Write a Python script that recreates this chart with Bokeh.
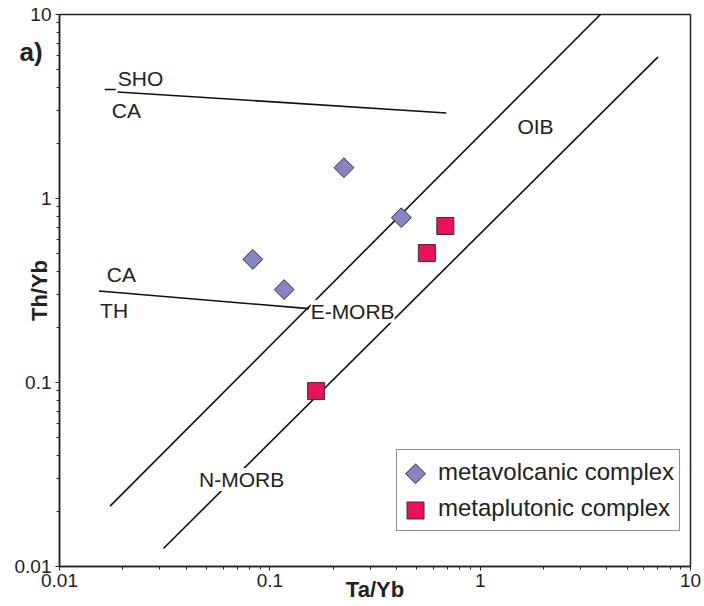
from bokeh.plotting import figure
from bokeh.models import (Range1d, FixedTicker, CustomJSTickFormatter, Label,
                          Legend, LegendItem, ColumnDataSource)
from bokeh.core.properties import value
from bokeh.embed import file_html
from bokeh.resources import INLINE
import math

# ---- data ----
metavolcanic_ta_yb = [0.083, 0.117, 0.225, 0.422]
metavolcanic_th_yb = [0.467, 0.320, 1.47, 0.787]
metaplutonic_ta_yb = [0.166, 0.558, 0.683]
metaplutonic_th_yb = [0.0898, 0.505, 0.709]

# boundary lines of the diagram
upper_array_x = [0.0174, 3.73]
upper_array_y = [0.0213, 10.0]
lower_array_x = [0.0312, 7.01]
lower_array_y = [0.01253, 5.88]
sho_ca_x = [0.01887, 0.690]
sho_ca_y = [3.794, 2.917]
sho_ca_dash_x = [0.0164, 0.0185]
sho_ca_dash_y = [3.91, 3.91]
ca_th_x = [0.0154, 0.1534]
ca_th_y = [0.314, 0.252]

# field labels
field_labels = ["SHO", "CA", "CA", "TH", "E-MORB", "N-MORB", "OIB"]
field_label_x = [0.01892, 0.01773, 0.01678, 0.01559, 0.1563, 0.04606, 1.504]
field_label_y = [4.487, 3.0, 0.3886, 0.245, 0.2442, 0.0297, 2.454]
field_label_bg = [None, None, None, None, "white", "white", "white"]

major_ticks = [0.01, 0.1, 1, 10]
minor_ticks = [m * d for d in [0.01, 0.1, 1] for m in range(2, 10)]

series_names = ["metavolcanic complex", "metaplutonic complex"]
# legend swatch anchor points (inside the legend box, data space)
legend_swatch_x = [0.4928, 0.4928]
legend_swatch_y = [0.03191, 0.02015]

FONT = "Liberation Sans"
INK = "#222222"
VOLC_FILL = "#8784c3"
PLUT_FILL = "#eb1158"

p = figure(width=704, height=606, x_axis_type="log", y_axis_type="log",
           x_range=Range1d(0.01, 10), y_range=Range1d(0.01, 10),
           output_backend="svg", toolbar_location=None,
           min_border_left=59, min_border_right=14, min_border_top=14,
           min_border_bottom=40)
p.grid.visible = False
p.outline_line_color = INK
p.outline_line_width = 1.5
p.background_fill_color = "white"
p.border_fill_color = "white"

fmt = CustomJSTickFormatter(code="return String(Number(tick.toPrecision(6)));")
for ax in (p.xaxis[0], p.yaxis[0]):
    ax.ticker = FixedTicker(ticks=major_ticks, minor_ticks=minor_ticks)
    ax.formatter = fmt
    ax.axis_line_color = INK
    ax.axis_line_width = 1.5
    ax.major_tick_line_color = INK
    ax.minor_tick_line_color = INK
    ax.major_tick_in = 0
    ax.major_tick_out = 4
    ax.minor_tick_in = 0
    ax.minor_tick_out = 3
    ax.major_label_text_font = FONT
    ax.major_label_text_font_size = "19px"
    ax.major_label_text_color = INK
    ax.axis_label_text_font = FONT
    ax.axis_label_text_font_size = "22px"
    ax.axis_label_text_font_style = "bold"
    ax.axis_label_text_color = INK
p.xaxis.major_label_standoff = 3
p.yaxis.major_label_standoff = 4
p.xaxis.axis_label = "Ta/Yb"
p.yaxis.axis_label = "Th/Yb"
p.xaxis.axis_label_standoff = -13
p.yaxis.axis_label_standoff = -40

# lines
for xs, ys in [(upper_array_x, upper_array_y), (lower_array_x, lower_array_y),
               (sho_ca_x, sho_ca_y), (sho_ca_dash_x, sho_ca_dash_y),
               (ca_th_x, ca_th_y)]:
    p.line(xs, ys, line_color="#111111", line_width=1.6)

# field labels (white background where the text sits on a line)
src_bg = ColumnDataSource(dict(
    x=[x for x, b in zip(field_label_x, field_label_bg) if b],
    y=[y for y, b in zip(field_label_y, field_label_bg) if b],
    t=[t for t, b in zip(field_labels, field_label_bg) if b]))
src_nobg = ColumnDataSource(dict(
    x=[x for x, b in zip(field_label_x, field_label_bg) if not b],
    y=[y for y, b in zip(field_label_y, field_label_bg) if not b],
    t=[t for t, b in zip(field_labels, field_label_bg) if not b]))
p.text(x="x", y="y", text="t", source=src_nobg, text_font=value(FONT),
       text_font_size=value("21px"), text_color=INK, text_align="left",
       text_baseline="middle")
p.text(x="x", y="y", text="t", source=src_bg, text_font=value(FONT),
       text_font_size=value("21px"), text_color=INK, text_align="left",
       text_baseline="middle", background_fill_color="white")

# markers
p.scatter(metavolcanic_ta_yb, metavolcanic_th_yb, marker="square",
          size=14, angle=math.pi / 4, fill_color=VOLC_FILL,
          line_color="#333333", line_width=1)
p.scatter(metaplutonic_ta_yb, metaplutonic_th_yb, marker="square",
          size=17, fill_color=PLUT_FILL, line_color="#333333", line_width=1)

# legend swatches (rotated-square diamond like the reference), under a
# transparent Bokeh legend that supplies the frame and the labels
p.scatter(legend_swatch_x[:1], legend_swatch_y[:1], marker="square",
          size=14, angle=math.pi / 4, fill_color=VOLC_FILL,
          line_color="#333333", line_width=1)
p.scatter(legend_swatch_x[1:], legend_swatch_y[1:], marker="square",
          size=17, fill_color=PLUT_FILL, line_color="#333333", line_width=1)
proxy_volc = p.scatter([], [], marker="square", fill_alpha=0, line_alpha=0)
proxy_plut = p.scatter([], [], marker="square", fill_alpha=0, line_alpha=0)
legend = Legend(items=[LegendItem(label=series_names[0], renderers=[proxy_volc]),
                       LegendItem(label=series_names[1], renderers=[proxy_plut])],
                location=(337, 35), orientation="vertical",
                border_line_color=INK, border_line_width=1.2,
                background_fill_alpha=0,
                padding=5, spacing=2, margin=0, label_standoff=4,
                glyph_width=32, glyph_height=34,
                label_text_font=FONT, label_text_font_size="24px",
                label_text_color=INK)
p.add_layout(legend, "center")

# panel letter, in the left side panel (not clipped by the frame)
p.add_layout(Label(x=19, y=515, x_units="screen", y_units="screen",
                   text="a)", text_font=FONT, text_font_size="26px",
                   text_font_style="bold", text_color=INK,
                   text_align="left", text_baseline="middle"), "left")

open("out.html", "w").write(file_html(p, INLINE))
